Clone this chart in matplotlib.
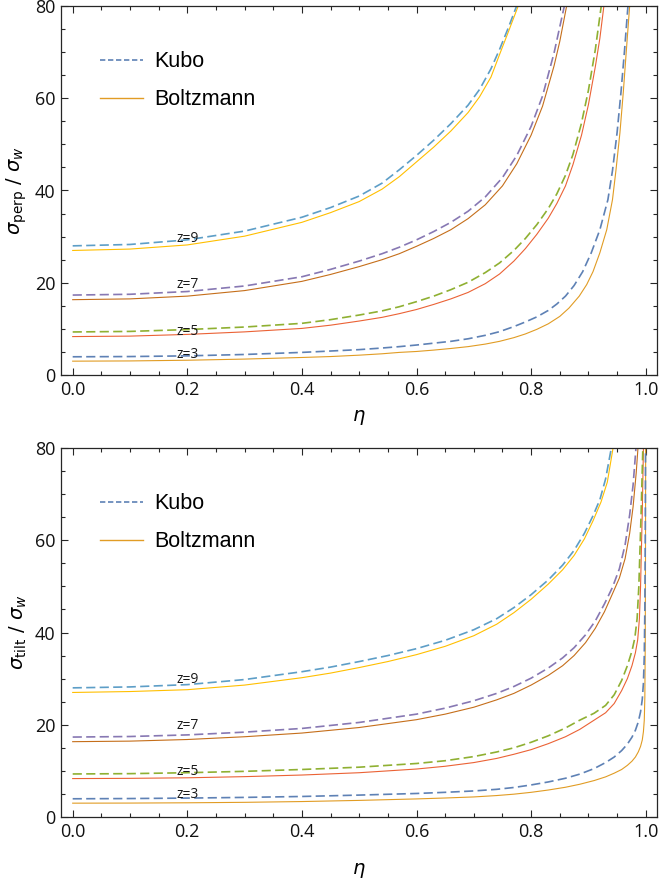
import matplotlib
matplotlib.use("Agg")
import matplotlib.pyplot as plt
from matplotlib.ticker import MultipleLocator

# ---------------- data ----------------
z_labels = ["z=3", "z=5", "z=7", "z=9"]
legend_labels = ["Kubo", "Boltzmann"]
xticks = [0.0, 0.2, 0.4, 0.6, 0.8, 1.0]
yticks = [0, 20, 40, 60, 80]

# top panel: sigma_perp / sigma_w
perp_kubo3_eta = [0, 0.1, 0.2, 0.3, 0.4, 0.45, 0.5, 0.54, 0.57, 0.6, 0.63, 0.66, 0.69, 0.72, 0.745, 0.77, 0.79, 0.81, 0.83, 0.845, 0.86, 0.875, 0.89, 0.905, 0.92, 0.934, 0.942, 0.95, 0.957, 0.963, 0.969]
perp_kubo3_val = [3.95, 4.0, 4.15, 4.45, 4.9, 5.2, 5.5, 5.85, 6.15, 6.5, 6.9, 7.3, 7.85, 8.6, 9.4, 10.5, 11.5, 12.6, 14.0, 15.4, 17.1, 19.4, 22.4, 26.5, 31.5, 38.0, 44.3, 52.5, 61.5, 70.3, 80]
perp_boltz3_eta = [0, 0.1, 0.2, 0.3, 0.4, 0.45, 0.5, 0.54, 0.57, 0.6, 0.63, 0.66, 0.69, 0.72, 0.745, 0.77, 0.79, 0.81, 0.83, 0.85, 0.866, 0.884, 0.897, 0.908, 0.92, 0.932, 0.942, 0.948, 0.955, 0.961, 0.966, 0.972]
perp_boltz3_val = [3.0, 3.05, 3.2, 3.45, 3.8, 4.0, 4.3, 4.6, 4.9, 5.1, 5.4, 5.75, 6.15, 6.7, 7.3, 8.1, 8.9, 9.9, 11.1, 12.7, 14.5, 17.1, 19.6, 22.4, 26.5, 31.5, 38.0, 44.3, 52.5, 61.5, 70.0, 80]
perp_kubo5_eta = [0, 0.1, 0.2, 0.3, 0.4, 0.45, 0.5, 0.54, 0.57, 0.6, 0.63, 0.66, 0.69, 0.72, 0.745, 0.77, 0.79, 0.81, 0.83, 0.845, 0.86, 0.873, 0.8875, 0.9, 0.912, 0.9224]
perp_kubo5_val = [9.33, 9.45, 9.85, 10.4, 11.2, 12.0, 13.0, 13.9, 14.8, 15.9, 17.1, 18.5, 20.1, 22.2, 24.3, 27.0, 29.6, 32.6, 36.1, 39.3, 43.3, 47.8, 54.4, 61.7, 70.5, 80]
perp_boltz5_eta = [0, 0.1, 0.2, 0.3, 0.4, 0.45, 0.5, 0.54, 0.57, 0.6, 0.63, 0.66, 0.69, 0.72, 0.745, 0.77, 0.79, 0.81, 0.83, 0.845, 0.86, 0.873, 0.888, 0.9, 0.912, 0.92, 0.927]
perp_boltz5_val = [8.33, 8.43, 8.8, 9.35, 10.1, 10.8, 11.7, 12.5, 13.3, 14.2, 15.3, 16.5, 17.9, 19.8, 21.9, 24.7, 27.4, 30.5, 34.0, 37.2, 41.0, 45.6, 52.0, 58.6, 66.8, 73.0, 80]
perp_kubo7_eta = [0, 0.1, 0.2, 0.3, 0.4, 0.45, 0.5, 0.54, 0.57, 0.6, 0.63, 0.66, 0.69, 0.72, 0.75, 0.775, 0.8, 0.82, 0.84, 0.858]
perp_kubo7_val = [17.33, 17.5, 18.1, 19.3, 21.3, 22.9, 24.7, 26.3, 27.7, 29.3, 31.1, 33.1, 35.5, 38.6, 42.8, 47.6, 53.9, 60.5, 69.8, 80]
perp_boltz7_eta = [0, 0.1, 0.2, 0.3, 0.4, 0.45, 0.5, 0.54, 0.57, 0.6, 0.63, 0.66, 0.69, 0.72, 0.75, 0.775, 0.8, 0.82, 0.84, 0.85, 0.862]
perp_boltz7_val = [16.33, 16.5, 17.1, 18.3, 20.3, 21.8, 23.5, 25.0, 26.3, 27.9, 29.6, 31.5, 33.9, 36.9, 41.0, 45.8, 52.0, 58.3, 67.0, 72.3, 80]
perp_kubo9_eta = [0, 0.1, 0.2, 0.3, 0.4, 0.45, 0.5, 0.54, 0.57, 0.6, 0.63, 0.66, 0.69, 0.71, 0.73, 0.745, 0.76, 0.7747]
perp_kubo9_val = [28.0, 28.3, 29.3, 31.2, 34.2, 36.3, 38.8, 41.6, 44.5, 47.6, 50.9, 54.5, 58.5, 61.9, 66.4, 70.6, 75.2, 80]
perp_boltz9_eta = [0, 0.1, 0.2, 0.3, 0.4, 0.45, 0.5, 0.54, 0.57, 0.6, 0.63, 0.66, 0.69, 0.71, 0.73, 0.745, 0.76, 0.7775]
perp_boltz9_val = [27.0, 27.3, 28.2, 30.1, 33.1, 35.2, 37.6, 40.3, 43.0, 46.2, 49.4, 52.9, 56.9, 60.3, 64.6, 69.5, 74.3, 80]

# bottom panel: sigma_tilt / sigma_w
tilt_kubo3_eta = [0, 0.1, 0.2, 0.3, 0.4, 0.5, 0.6, 0.65, 0.7, 0.74, 0.77, 0.8, 0.83, 0.86, 0.885, 0.91, 0.93, 0.945, 0.958, 0.968, 0.976, 0.982, 0.987, 0.991, 0.994, 0.996, 0.9975, 0.9985, 0.9992, 0.9997]
tilt_kubo3_val = [3.95, 4.0, 4.1, 4.25, 4.45, 4.75, 5.1, 5.35, 5.65, 6.0, 6.4, 6.95, 7.6, 8.4, 9.3, 10.5, 11.8, 13.0, 14.4, 15.8, 17.3, 18.8, 20.6, 22.8, 25.5, 29.0, 35.0, 45.0, 60.0, 80]
tilt_boltz3_eta = [0, 0.1, 0.2, 0.3, 0.4, 0.5, 0.6, 0.65, 0.7, 0.74, 0.77, 0.8, 0.83, 0.86, 0.885, 0.91, 0.93, 0.945, 0.958, 0.968, 0.976, 0.982, 0.987, 0.991, 0.994, 0.996, 0.9975, 0.9985, 0.9992, 0.9996, 0.9999]
tilt_boltz3_val = [3.0, 3.02, 3.08, 3.18, 3.35, 3.6, 3.92, 4.12, 4.35, 4.65, 4.95, 5.35, 5.85, 6.45, 7.1, 7.9, 8.7, 9.5, 10.3, 11.2, 12.1, 13.0, 14.1, 15.3, 16.7, 18.5, 21.0, 26.0, 38.0, 55.0, 80]
tilt_kubo5_eta = [0, 0.1, 0.2, 0.3, 0.4, 0.5, 0.6, 0.65, 0.7, 0.74, 0.77, 0.8, 0.83, 0.86, 0.885, 0.91, 0.93, 0.945, 0.958, 0.968, 0.976, 0.981, 0.985, 0.988, 0.990, 0.992, 0.9935, 0.995]
tilt_kubo5_val = [9.33, 9.4, 9.6, 9.9, 10.3, 10.8, 11.6, 12.2, 13.1, 14.1, 15.0, 16.2, 17.6, 19.3, 21.0, 22.5, 24.2, 26.5, 29.6, 32.8, 36.0, 38.8, 43.0, 50.0, 58.0, 66.0, 73.0, 80]
tilt_boltz5_eta = [0, 0.1, 0.2, 0.3, 0.4, 0.5, 0.6, 0.65, 0.7, 0.74, 0.77, 0.8, 0.83, 0.86, 0.885, 0.91, 0.93, 0.945, 0.958, 0.968, 0.976, 0.982, 0.986, 0.989, 0.991, 0.9925, 0.994, 0.995, 0.996]
tilt_boltz5_val = [8.33, 8.38, 8.5, 8.75, 9.1, 9.6, 10.4, 11.0, 11.8, 12.7, 13.6, 14.6, 15.9, 17.4, 19.0, 21.0, 22.6, 24.6, 27.4, 30.0, 32.8, 35.6, 38.4, 43.0, 50.0, 58.0, 66.0, 73.0, 80]
tilt_kubo7_eta = [0, 0.1, 0.2, 0.3, 0.4, 0.5, 0.6, 0.65, 0.7, 0.74, 0.77, 0.8, 0.83, 0.855, 0.875, 0.895, 0.912, 0.928, 0.942, 0.954, 0.964, 0.972, 0.978, 0.983]
tilt_kubo7_val = [17.33, 17.45, 17.8, 18.4, 19.2, 20.5, 22.3, 23.6, 25.2, 26.8, 28.3, 30.1, 32.3, 34.5, 36.7, 39.5, 42.5, 46.2, 49.8, 53.8, 59.0, 65.5, 72.0, 80]
tilt_boltz7_eta = [0, 0.1, 0.2, 0.3, 0.4, 0.5, 0.6, 0.65, 0.7, 0.74, 0.77, 0.8, 0.83, 0.855, 0.875, 0.895, 0.912, 0.928, 0.942, 0.954, 0.964, 0.972, 0.978, 0.9834, 0.9865]
tilt_boltz7_val = [16.33, 16.45, 16.8, 17.4, 18.2, 19.4, 21.1, 22.3, 23.8, 25.4, 26.8, 28.6, 30.7, 32.8, 35.0, 37.8, 40.9, 44.5, 48.4, 51.8, 56.0, 61.5, 67.3, 74.6, 80]
tilt_kubo9_eta = [0, 0.1, 0.2, 0.3, 0.4, 0.45, 0.5, 0.55, 0.6, 0.65, 0.7, 0.74, 0.77, 0.8, 0.83, 0.855, 0.875, 0.893, 0.908, 0.92, 0.93, 0.94]
tilt_kubo9_val = [28.0, 28.2, 28.7, 29.8, 31.5, 32.5, 33.7, 35.0, 36.5, 38.3, 40.6, 43.0, 45.4, 48.2, 51.4, 54.6, 57.8, 61.5, 65.3, 68.8, 73.3, 80]
tilt_boltz9_eta = [0, 0.1, 0.2, 0.3, 0.4, 0.45, 0.5, 0.55, 0.6, 0.65, 0.7, 0.74, 0.77, 0.8, 0.83, 0.855, 0.875, 0.893, 0.908, 0.922, 0.933, 0.943]
tilt_boltz9_val = [27.0, 27.2, 27.6, 28.6, 30.2, 31.2, 32.4, 33.7, 35.2, 37.0, 39.3, 41.8, 44.3, 47.2, 50.5, 53.6, 56.7, 60.3, 64.2, 68.3, 72.6, 80]

# label anchor positions (eta, value)
perp_label_eta = [0.2, 0.2, 0.2, 0.2]
perp_label_val = [4.5, 9.4, 19.6, 29.6]
tilt_label_eta = [0.2, 0.2, 0.2, 0.2]
tilt_label_val = [4.9, 9.8, 19.9, 29.9]

# ---------------- style ----------------
kubo_colors = ["#5E81B5", "#8FB032", "#8778B3", "#5D9EC7"]
boltz_colors = ["#E19C24", "#EB6235", "#C56E1A", "#FFBF00"]
frame_col = "#262626"
tick_font = "Open Sans"

W, H = 661, 881
fig = plt.figure(figsize=(W / 100, H / 100), dpi=100)
ax1 = fig.add_axes([61 / W, 1 - 375 / H, 596 / W, 369 / H])
ax2 = fig.add_axes([61 / W, 1 - 817 / H, 596 / W, 369 / H])

panels = [
    (ax1,
     [(perp_kubo3_eta, perp_kubo3_val), (perp_kubo5_eta, perp_kubo5_val),
      (perp_kubo7_eta, perp_kubo7_val), (perp_kubo9_eta, perp_kubo9_val)],
     [(perp_boltz3_eta, perp_boltz3_val), (perp_boltz5_eta, perp_boltz5_val),
      (perp_boltz7_eta, perp_boltz7_val), (perp_boltz9_eta, perp_boltz9_val)],
     perp_label_eta, perp_label_val, r"$\sigma_{\mathrm{perp}}\ /\ \sigma_w$", 7),
    (ax2,
     [(tilt_kubo3_eta, tilt_kubo3_val), (tilt_kubo5_eta, tilt_kubo5_val),
      (tilt_kubo7_eta, tilt_kubo7_val), (tilt_kubo9_eta, tilt_kubo9_val)],
     [(tilt_boltz3_eta, tilt_boltz3_val), (tilt_boltz5_eta, tilt_boltz5_val),
      (tilt_boltz7_eta, tilt_boltz7_val), (tilt_boltz9_eta, tilt_boltz9_val)],
     tilt_label_eta, tilt_label_val, r"$\sigma_{\mathrm{tilt}}\ /\ \sigma_w$", 15),
]

for ax, kubo, boltz, lx, ly, ylab, xpad in panels:
    for i in range(4):
        be, bv = boltz[i]
        ax.plot(be, bv, color=boltz_colors[i], lw=0.8, solid_joinstyle="round")
        ke, kv = kubo[i]
        ax.plot(ke, kv, color=kubo_colors[i], lw=1.2, dashes=(5.5, 2.6))
    for i in range(4):
        ax.text(lx[i], ly[i], z_labels[i], ha="center", va="center",
                fontsize=10, family=tick_font, color="#1a1a1a")
    ax.set_xlim(-0.0204, 1.0197)
    ax.set_ylim(0, 80)
    ax.set_xticks(xticks)
    ax.set_yticks(yticks)
    ax.set_xticklabels([f"{t:.1f}" for t in xticks])
    ax.set_yticklabels([str(t) for t in yticks])
    ax.xaxis.set_minor_locator(MultipleLocator(0.05))
    ax.yaxis.set_minor_locator(MultipleLocator(5))
    ax.tick_params(which="both", direction="in", top=True, right=True,
                   color=frame_col, width=0.8)
    ax.tick_params(which="major", length=5, pad=4, labelsize=13,
                   labelcolor="#111111")
    ax.tick_params(which="minor", length=2.8)
    for lab in ax.get_xticklabels() + ax.get_yticklabels():
        lab.set_family(tick_font)
    for sp in ax.spines.values():
        sp.set_color(frame_col)
        sp.set_linewidth(0.9)
    ax.set_xlabel(r"$\eta$", fontsize=14, labelpad=xpad)
    ax.set_ylabel(ylab, fontsize=14, labelpad=4)
    # legend
    h1, = ax.plot([], [], color=kubo_colors[0], lw=1.2, dashes=(3.2, 1.6))
    h2, = ax.plot([], [], color=boltz_colors[0], lw=1.0)
    ax.legend([h1, h2], legend_labels, loc="upper left",
              bbox_to_anchor=(0.065, 0.877), frameon=False,
              prop={"family": "Liberation Sans", "size": 15.5},
              handlelength=2.0, handletextpad=0.55, labelspacing=0.79,
              borderpad=0, borderaxespad=0)

fig.savefig("out.png", dpi=100)
